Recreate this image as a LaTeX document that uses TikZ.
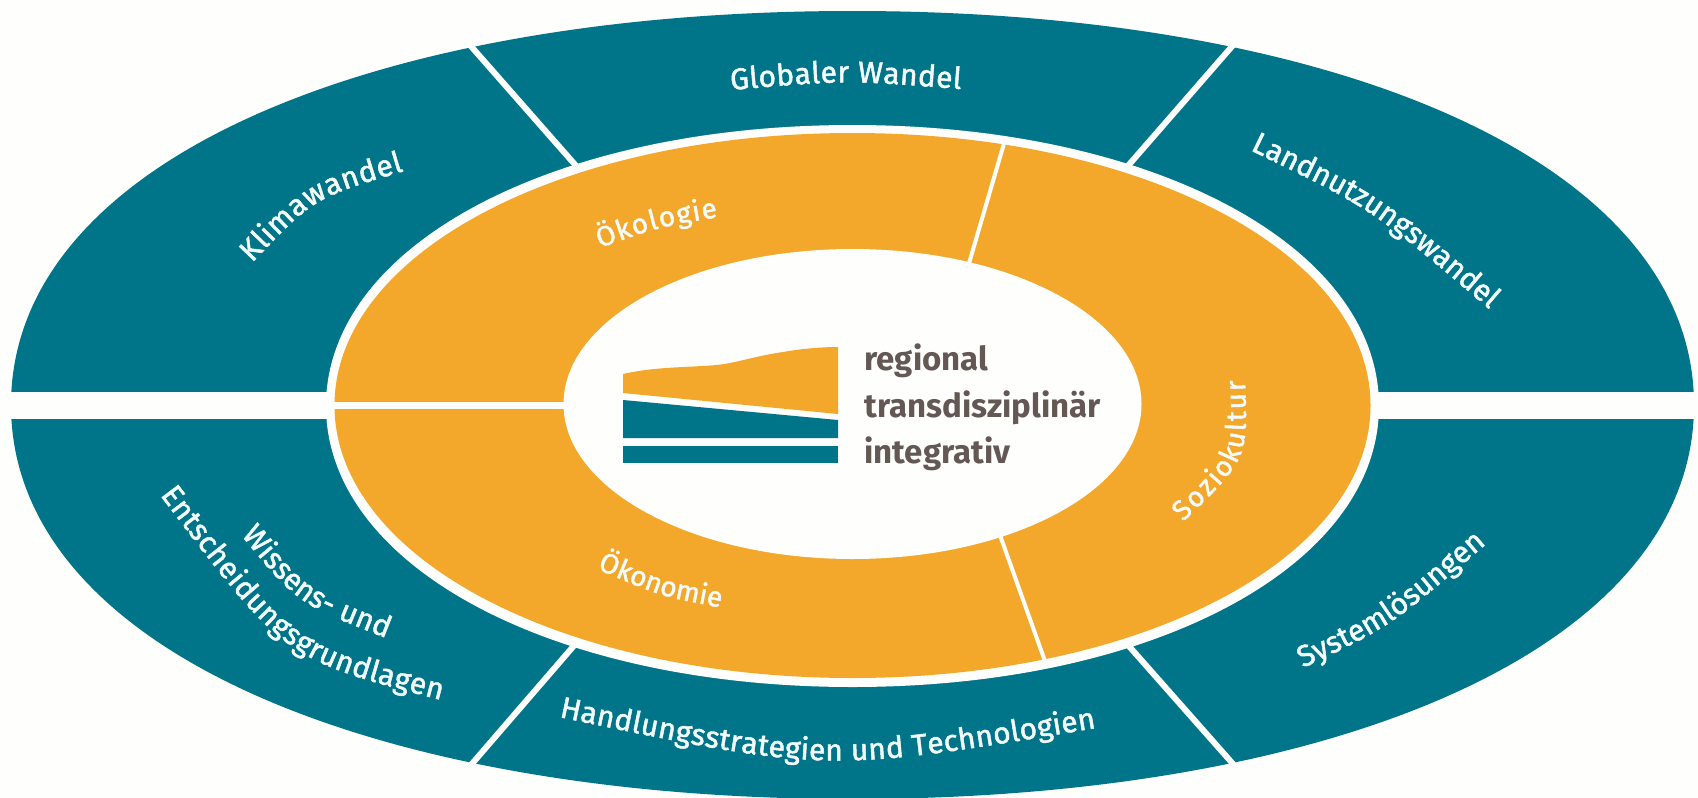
\documentclass[tikz,border=0pt]{standalone}
\usepackage{fontspec}
\setmainfont{Fira Sans}
\newfontfamily\labfont[FakeBold=1.6]{Fira Sans}
\usetikzlibrary{decorations.text}
\definecolor{teal}{HTML}{007589}
\definecolor{amber}{HTML}{F3A82C}
\definecolor{paper}{HTML}{FEFEFC}
\definecolor{ink}{HTML}{645855}
\definecolor{labwhite}{HTML}{F4FBFB}
\newcommand\teallab{\labfont\fontsize{15}{15}\selectfont\color{labwhite}}
\newcommand\amberlab{\labfont\fontsize{14}{14}\selectfont\color{labwhite}}
% fuller-than-elliptic closed curve: colour, cx, cy, a, b, kappa x, kappa y
\newcommand\ovalfill[7]{%
  \pgfmathsetmacro\ovalkx{#4*#6}\pgfmathsetmacro\ovalky{#5*#7}%
  \fill[#1] ({#2-#4},#3)
    .. controls ({#2-#4},{#3-\ovalky}) and ({#2-\ovalkx},{#3-#5}) .. (#2,{#3-#5})
    .. controls ({#2+\ovalkx},{#3-#5}) and ({#2+#4},{#3-\ovalky}) .. ({#2+#4},#3)
    .. controls ({#2+#4},{#3+\ovalky}) and ({#2+\ovalkx},{#3+#5}) .. (#2,{#3+#5})
    .. controls ({#2-\ovalkx},{#3+#5}) and ({#2-#4},{#3+\ovalky}) .. cycle;}
\tikzset{
  curvelab/.style={decorate,decoration={text along path,text align={fit to path},text={#1}}},
  gapline/.style={draw=paper,line width=3pt},
  thinline/.style={draw=paper,line width=2pt},
  centertext/.style={anchor=base west,inner sep=0pt,text=ink,font=\bfseries\fontsize{16.5}{16.5}\selectfont}
}
\begin{document}
\begin{tikzpicture}[x=0.5pt,y=-0.5pt]
\path[use as bounding box,fill=paper] (0,0) rectangle (1698,798);
\clip (0,0) rectangle (1698,798);
% outer ring
\ovalfill{teal}{852.5}{405}{841.5}{394}{0.57}{0.62}
\draw[gapline] (462,36) -- (585,176);
\draw[gapline] (1241,36) -- (1120,175);
\draw[gapline] (584,634) -- (464,773);
\draw[gapline] (1120,636) -- (1241,773);
\fill[paper] (0,392) rectangle (1698,419);
% middle ring
\ovalfill{paper}{852.5}{406}{526.5}{281}{0.57}{0.57}
\ovalfill{amber}{852.5}{405.5}{518}{272.5}{0.56}{0.56}
\draw[thinline] (1005,140) -- (965,277);
\draw[thinline] (996,524) -- (1046,664);
\fill[paper] (330,402) rectangle (570,409);
% core
\fill[paper] (852.5,404) ellipse [x radius=289,y radius=155];
% logo
\fill[amber] (623,374) .. controls (645,369) and (665,368) .. (683,367)
  .. controls (700,366) and (715,366) .. (730,363)
  .. controls (745,360) and (762,355) .. (783,352)
  .. controls (800,349) and (820,347) .. (838,347)
  -- (838,414) -- (623,393) -- cycle;
\fill[teal] (623,400) -- (838,420) -- (838,438) -- (623,438) -- cycle;
\fill[teal] (623,446) rectangle (838,463);
\node[centertext] (regional) at (864,370) {regional};
\node[centertext] (trans) at (864,417) {transdisziplinär};
\node[centertext] (integ) at (864,463) {integrativ};
% labels on the outer ring
\path[curvelab={|\teallab|Klimawandel}] (252,263) .. controls (314,198) .. (404,171);
\path[curvelab={|\teallab|Globaler Wandel}] (731,90) .. controls (845,80) .. (961,89);
\path[curvelab={|\teallab|Landnutzungswandel}] (1250,150) .. controls (1372,209) .. (1488,308);
\path[curvelab={|\teallab|Systemlösungen}] (1303,668) .. controls (1391,626) .. (1484,546);
\path[curvelab={|\teallab|Handlungsstrategien und Technologien}] (559,717) .. controls (827,773) .. (1096,728);
\path[curvelab={|\teallab|Wissens- und}] (241,535) .. controls (297,603) .. (386,638);
\path[curvelab={|\teallab|Entscheidungsgrundlagen}] (160,495) .. controls (284,659) .. (441,700);
% labels on the middle ring
\path[curvelab={|\amberlab|Ökologie}] (600,248) .. controls (655,228) .. (718,217);
\path[curvelab={|\amberlab|Ökonomie}] (597,569) .. controls (660,596) .. (718,607);
\path[curvelab={|\amberlab|Soziokultur}] (1183,522) .. controls (1248,459) .. (1245,380);
\end{tikzpicture}
\end{document}
